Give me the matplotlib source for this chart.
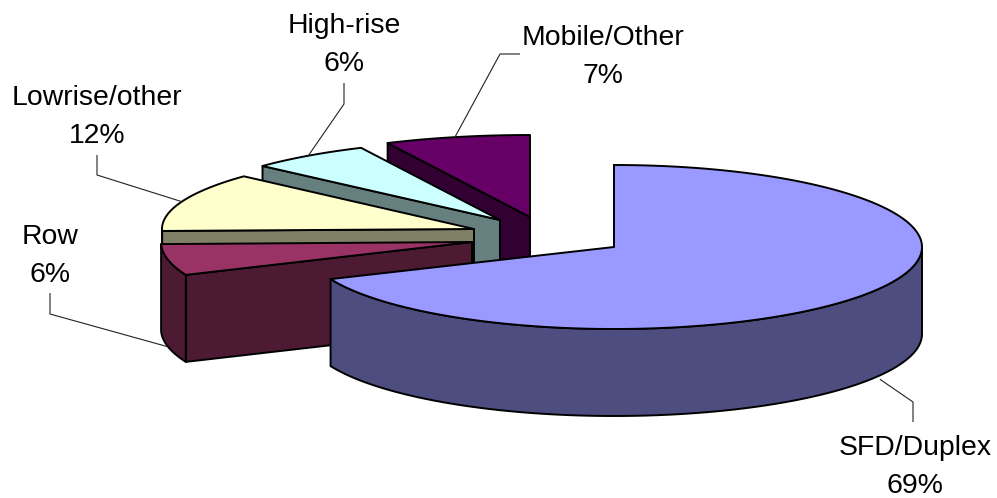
import numpy as np
import matplotlib
matplotlib.use("Agg")
import matplotlib.pyplot as plt
from matplotlib.patches import Polygon

# --- data (clockwise from 12 o'clock)
categories = ["SFD/Duplex", "Row", "Lowrise/other", "High-rise", "Mobile/Other"]
shares = [68.6, 6.0, 12.2, 6.1, 7.1]

# --- styling
top_colors = ["#9999FF", "#993366", "#FFFFCC", "#CCFFFF", "#660066"]
side_colors = ["#4D4D80", "#4D1A33", "#808066", "#668080", "#330033"]

# --- layout in image pixels: exploded slice apex and projected radii
apex_x = [614, 472, 474, 500, 530]
apex_y = [247, 242, 229, 220, 217]
radius_x = [308, 311, 312, 322, 330]
radius_y = [82, 84, 78, 80, 82]
depth = 87
label_x = [915, 50, 97, 344, 603]
label_baseline = [455, 244, 105, 33, 45]
elbow_points = [
    [(913, 422), (913, 402)],
    [(50, 293), (50, 314)],
    [(97, 155), (97, 175)],
    [(344, 83), (344, 104)],
    [(520, 54), (500, 54)],
]
leader_shift_x = [9, 0, 0, 0, -2]

plt.rcParams["font.family"] = ["Liberation Sans", "DejaVu Sans"]
fig = plt.figure(figsize=(9.97, 4.98), dpi=100, facecolor="white")
ax = fig.add_axes([0, 0, 1, 1])
ax.set_xlim(0, 997)
ax.set_ylim(498, 0)
ax.axis("off")

edges = np.cumsum([0] + shares) / sum(shares) * 360.0


def rim(i, angle_deg):
    t = np.radians(angle_deg)
    return (apex_x[i] + radius_x[i] * np.sin(t),
            apex_y[i] - radius_y[i] * np.cos(t))


def add_poly(xs, ys, color, z):
    ax.add_patch(Polygon(np.column_stack([xs, ys]), closed=True, facecolor=color,
                         edgecolor="black", linewidth=1.4, joinstyle="round",
                         zorder=z))


n = len(shares)
# painter's order: the rear slices first, the front slice last
for i in range(n - 1, -1, -1):
    a0, a1 = edges[i], edges[i + 1]
    z = 10 + (n - i) * 3
    # cut face at the start angle
    rx0, ry0 = rim(i, a0)
    add_poly([apex_x[i], rx0, rx0, apex_x[i]],
             [apex_y[i], ry0, ry0 + depth, apex_y[i] + depth], side_colors[i], z)
    # outer wall, only where it faces the viewer
    lo, hi = max(a0, 90), min(a1, 270)
    if hi > lo:
        th = np.linspace(lo, hi, 200)
        wx, wy = rim(i, th)
        add_poly(np.r_[wx, wx[::-1]], np.r_[wy, wy[::-1] + depth], side_colors[i], z + 1)
    # top surface
    th = np.linspace(a0, a1, 300)
    tx, ty = rim(i, th)
    add_poly(np.r_[apex_x[i], tx], np.r_[apex_y[i], ty], top_colors[i], z + 2)

# labels and leader lines
for i, name in enumerate(categories):
    ax.text(label_x[i], label_baseline[i], name, ha="center", va="baseline",
            fontsize=20.4, color="black", zorder=40)
    ax.text(label_x[i], label_baseline[i] + 38, f"{shares[i]:.0f}%", ha="center",
            va="baseline", fontsize=20.4, color="black", zorder=40)
    mid = (edges[i] + edges[i + 1]) / 2
    ex, ey = rim(i, mid)
    if 90 < mid < 270:
        ey += depth
    pts = elbow_points[i] + [(ex + leader_shift_x[i], ey)]
    ax.plot([p[0] for p in pts], [p[1] for p in pts], color="#222222", lw=0.8,
            solid_capstyle="butt", zorder=35)

fig.savefig("out.png", dpi=100, facecolor="white")
